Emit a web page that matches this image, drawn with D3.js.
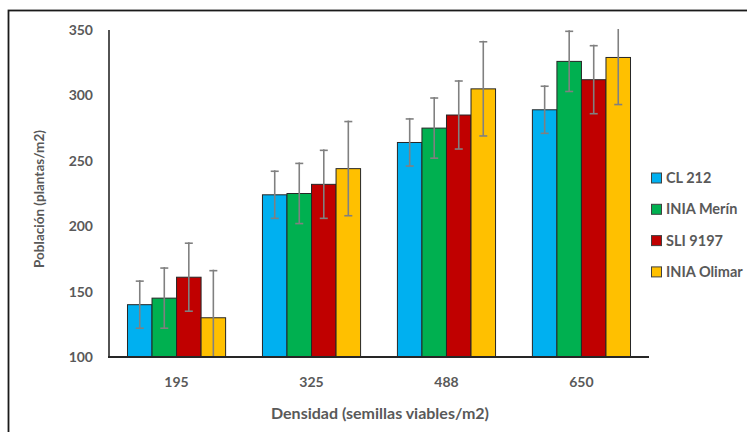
<!DOCTYPE html>
<html>
<head>
<meta charset="utf-8">
<script src="https://cdn.jsdelivr.net/npm/d3@7"></script>
<style>
  body { margin: 0; background: #fff; }
  text { font-family: Lato, "Open Sans", sans-serif; font-weight: bold; fill: #595959; }
</style>
</head>
<body>
<div id="chart"></div>
<script>
const densidades = ["195", "325", "488", "650"];
const variedades = ["CL 212", "INIA Merín", "SLI 9197", "INIA Olimar"];
const colores = ["#00B0F0", "#00B050", "#C00000", "#FFC000"];
// población media por variedad, en el orden de densidades
const cl212 = [140, 224, 264, 289];
const merin = [145, 225, 275, 326];
const sli9197 = [161, 232, 285, 312];
const olimar = [130, 244, 305, 329];
// error (±) por variedad
const errores = [18, 23, 26, 36];
const yTicks = [100, 150, 200, 250, 300, 350];

const series = [cl212, merin, sli9197, olimar];
const width = 747, height = 432;
const margin = {top: 30, right: 98, bottom: 75, left: 109};

const svg = d3.select("#chart").append("svg")
    .attr("width", width)
    .attr("height", height);

// marco exterior
svg.append("rect")
    .attr("x", 8.5).attr("y", 10.5)
    .attr("width", 760).attr("height", 440)
    .attr("fill", "none")
    .attr("stroke", "#1a1a1a")
    .attr("stroke-width", 1.8);

const x0 = d3.scaleBand()
    .domain(densidades)
    .range([margin.left, width - margin.right])
    .paddingInner(0.273)
    .paddingOuter(0.137);

const x1 = d3.scaleBand()
    .domain(variedades)
    .range([0, x0.bandwidth()]);

const y = d3.scaleLinear()
    .domain([100, 350])
    .range([height - margin.bottom, margin.top]);

const rows = densidades.flatMap((d, i) => variedades.map((v, j) => ({
  densidad: d, variedad: v, valor: series[j][i], err: errores[j], color: colores[j]
})));

const bars = svg.append("g");
bars.selectAll("rect")
  .data(rows)
  .join("rect")
    .attr("x", d => x0(d.densidad) + x1(d.variedad))
    .attr("y", d => y(d.valor))
    .attr("width", x1.bandwidth())
    .attr("height", d => y(100) - y(d.valor))
    .attr("fill", d => d.color)
    .attr("stroke", "#262626")
    .attr("stroke-width", 1);

// barras de error
const eb = svg.append("g")
    .attr("stroke", "#808080")
    .attr("stroke-width", 1.6)
    .attr("fill", "none");

rows.forEach(d => {
  const cx = x0(d.densidad) + x1(d.variedad) + x1.bandwidth() / 2;
  const hi = Math.min(d.valor + d.err, 350);
  const lo = Math.max(d.valor - d.err, 100);
  eb.append("line").attr("x1", cx).attr("x2", cx).attr("y1", y(hi) - 1).attr("y2", y(lo));
  if (d.valor + d.err < 350) eb.append("line").attr("x1", cx - 4).attr("x2", cx + 4).attr("y1", y(hi)).attr("y2", y(hi));
  if (d.valor - d.err > 100) eb.append("line").attr("x1", cx - 4).attr("x2", cx + 4).attr("y1", y(lo)).attr("y2", y(lo));
});

// ejes
svg.append("line")
    .attr("x1", margin.left).attr("x2", margin.left)
    .attr("y1", y(350)).attr("y2", y(100))
    .attr("stroke", "#1a1a1a").attr("stroke-width", 1.5);
svg.append("line")
    .attr("x1", margin.left - 1).attr("x2", width - margin.right)
    .attr("y1", y(100)).attr("y2", y(100))
    .attr("stroke", "#262626").attr("stroke-width", 2);

svg.append("g")
  .selectAll("text")
  .data(yTicks)
  .join("text")
    .attr("x", 93)
    .attr("y", d => y(d))
    .attr("dy", "0.35em")
    .attr("text-anchor", "end")
    .attr("font-size", 14)
    .text(d => d);

svg.append("g")
  .selectAll("text")
  .data(densidades)
  .join("text")
    .attr("x", d => x0(d) + x0.bandwidth() / 2)
    .attr("y", 382)
    .attr("dy", "0.35em")
    .attr("text-anchor", "middle")
    .attr("font-size", 14)
    .text(d => d);

svg.append("text")
    .attr("transform", `translate(39,${199}) rotate(-90)`)
    .attr("dy", "0.35em")
    .attr("text-anchor", "middle")
    .attr("font-size", 13.5)
    .text("Población (plantas/m2)");

svg.append("text")
    .attr("x", 380)
    .attr("y", 413)
    .attr("dy", "0.35em")
    .attr("text-anchor", "middle")
    .attr("font-size", 16)
    .text("Densidad (semillas viables/m2)");

// leyenda
const legend = svg.append("g")
  .selectAll("g")
  .data(variedades)
  .join("g")
    .attr("transform", (d, i) => `translate(651,${178 + i * 31.3})`);

legend.append("rect")
    .attr("x", 0.5).attr("y", -5)
    .attr("width", 10).attr("height", 10)
    .attr("fill", (d, i) => colores[i])
    .attr("stroke", "#404040")
    .attr("stroke-width", 1);

legend.append("text")
    .attr("x", 15)
    .attr("dy", "0.35em")
    .attr("font-size", 14.5)
    .text(d => d);
</script>
</body>
</html>
